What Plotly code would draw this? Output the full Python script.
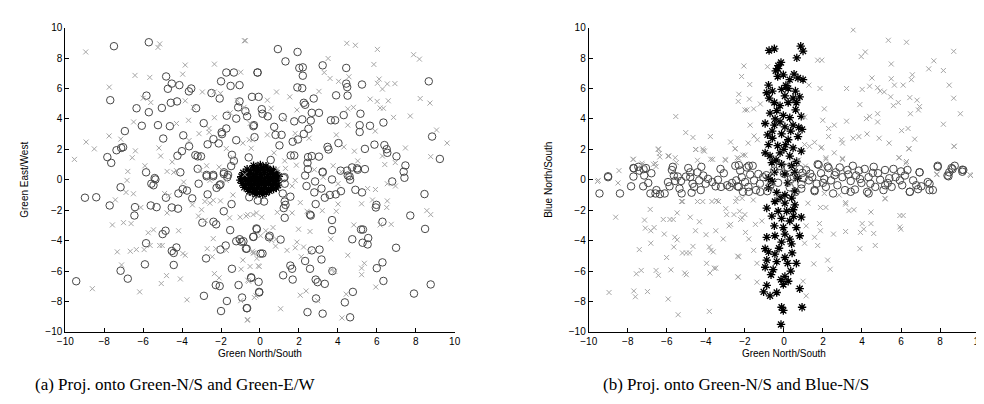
import plotly.graph_objects as go

# ---------------- Data: panel (a) Green N/S vs Green E/W ----------------
a_circles = [
(-7.50,8.78),(-5.71,9.04),(-7.69,5.23),(-5.83,5.53),(-6.34,4.70),(-5.71,4.44),(-5.04,4.72),(-4.82,6.79),
(-4.73,5.98),(-4.53,6.32),(-4.14,6.22),(-4.58,5.06),(-4.26,5.15),(-3.65,5.81),(-3.53,6.00),(-3.28,4.70),
(-6.94,3.20),(-6.07,3.55),(-5.24,3.59),(-4.63,3.52),(-4.97,2.71),(-7.84,1.49),(-7.64,1.11),(-7.37,1.94),
(-7.13,2.09),(-7.03,2.14),(-3.94,2.92),(-4.24,1.58),(-4.01,1.88),(-3.64,2.20),(-3.32,1.62),(-3.20,1.54),
(-3.03,1.54),(-2.89,3.72),(-2.69,2.33),(-2.39,2.67),(-2.12,2.39),(-1.97,3.12),(-1.95,3.00),(-1.73,3.37),
(-2.49,5.70),(-2.07,5.34),(-2.00,6.47),(-1.73,7.05),(-1.34,7.05),(-1.51,6.17),(-1.05,6.22),(-0.12,7.05),
(-1.71,4.21),(-1.22,4.02),(-1.12,4.76),(-1.05,5.15),(-0.75,4.51),(-0.66,4.17),(-0.41,5.45),(-0.07,5.45),
(-0.34,3.52),(-0.28,2.80),(-0.58,1.47),(-1.22,2.60),(-1.44,1.64),(-1.34,1.24),(-1.48,0.90),(-5.85,0.49),
(-4.09,0.49),(-3.20,0.72),(-2.74,0.32),(-2.40,0.32),(-1.85,0.49),(-1.64,0.32),(-5.41,0.11),
(0.92,8.59),(1.93,8.40),(1.31,7.78),(2.02,7.35),(2.20,7.39),(2.20,6.84),(3.22,7.52),(4.43,7.35),
(-0.13,7.05),(1.92,6.07),(2.17,6.02),(4.43,6.32),(4.48,6.09),(5.24,6.26),(8.67,6.47),(2.25,5.06),
(2.32,4.93),(2.76,5.34),(3.91,5.55),(4.50,5.53),(0.09,4.64),(0.13,4.34),(0.40,4.17),(1.17,4.12),
(1.76,3.84),(2.17,3.97),(2.66,4.40),(3.03,4.40),(2.61,3.89),(3.64,3.91),(3.86,3.91),(4.30,4.25),
(5.16,4.34),(5.12,3.59),(5.12,3.14),(5.65,3.55),(6.34,3.76),(-0.31,3.59),(0.73,3.48),(2.49,3.35),
(0.80,2.95),(1.11,2.95),(2.25,3.01),(1.95,2.65),(1.68,2.50),(1.00,2.26),(3.47,2.16),(3.52,1.99),
(4.03,2.41),(5.39,2.03),(5.88,2.31),(6.39,2.28),(6.51,2.01),(6.54,1.77),(8.84,2.84),(7.01,1.54),
(9.24,1.37),(1.58,1.60),(1.76,1.60),(2.47,1.49),(2.66,1.56),(3.03,1.52),(2.44,1.11),(2.46,0.70),
(0.55,1.30),(3.22,0.53),(4.14,0.60),(4.47,0.60),(4.73,0.81),(4.99,0.75),(5.39,0.70),(7.47,0.94),
(7.38,0.53),(1.26,0.17),(2.32,0.28),(4.51,0.28),
(-9.44,-6.67),(-8.99,-1.18),(-8.41,-1.15),(-7.72,-1.69),(-7.16,-0.49),(-6.45,-2.35),(-6.42,-1.80),
(-5.58,-0.26),(-5.47,-0.36),(-5.37,0.02),(-5.61,-1.69),(-5.31,-1.80),(-5.85,-4.17),(-5.00,-3.57),
(-4.85,-3.35),(-4.83,-1.18),(-4.53,-1.82),(-4.21,-1.90),(-4.29,-4.45),(-4.53,-4.68),(-4.43,-4.81),
(-4.43,-5.60),(-5.91,-5.56),(-7.16,-5.98),(-6.79,-6.50),(-4.19,-0.90),(-3.97,-0.62),(-3.75,-0.71),
(-3.48,-1.22),(-3.15,-0.26),(-2.69,-0.96),(-2.74,0.23),(-2.40,0.23),(-2.23,-0.53),(-2.08,-0.36),
(-2.03,-0.30),(-1.86,0.38),(-1.68,0.17),(-1.86,-2.07),(-1.46,-1.60),(-2.96,-2.82),(-2.39,-2.76),
(-2.25,-2.93),(-1.53,-3.31),(-0.33,-3.74),(-0.16,-3.25),(-1.22,-4.04),(-1.04,-3.91),(-0.95,-4.08),
(-0.85,-4.04),(-0.68,-4.53),(-1.76,-4.32),(-2.03,-4.59),(-2.77,-5.17),(-1.44,-5.85),(-2.27,-6.92),
(-2.07,-6.99),(-2.88,-7.63),(-1.70,-7.97),(-2.00,-8.63),(-1.10,-6.92),(-0.92,-7.74),(-0.66,-8.44),
(-0.45,-6.45),(-0.07,-6.71),(-0.04,-7.37),(0.03,-4.85),(-0.55,-1.15),(-0.11,-1.37),
(1.22,0.11),(1.27,-0.26),(1.17,-0.90),(1.56,-1.11),(1.27,-1.43),(1.22,-1.86),(1.31,-1.65),(1.27,-2.50),
(0.21,-1.43),(2.39,-0.41),(2.83,-0.11),(2.79,-0.83),(3.16,-0.58),(3.22,0.49),(3.70,0.02),(4.60,0.23),
(4.63,0.00),(5.02,0.66),(3.33,-1.18),(3.59,-1.00),(3.89,-0.96),(4.16,-0.75),(4.90,-0.66),(5.24,-0.83),
(2.86,-1.60),(2.57,-2.29),(2.61,-2.35),(3.70,-2.65),(3.70,-3.31),(4.74,-3.91),(5.19,-3.27),(5.29,-3.27),
(5.56,-3.83),(5.27,-4.14),(5.53,-4.25),(5.95,-1.82),(5.98,-1.65),(6.29,-2.76),(6.79,-0.11),(7.42,0.13),
(8.45,-0.94),(7.72,-2.35),(8.48,-3.23),(6.99,-4.47),(6.00,-5.81),(6.29,-5.43),(6.34,-6.65),(4.77,-7.37),
(4.36,-8.06),(4.63,-9.04),(8.77,-6.88),(7.91,-7.48),(-0.18,-3.20),(-0.35,-3.76),(0.50,-3.68),(1.06,-3.93),
(0.46,-3.78),(-0.72,-4.53),(0.13,-4.85),(2.66,-4.64),(3.06,-4.59),(3.16,-5.24),(2.32,-5.34),(1.56,-5.64),
(1.65,-5.85),(2.57,-5.85),(1.19,-6.28),(1.68,-6.56),(2.86,-6.56),(2.96,-6.73),(3.33,-6.84),(3.72,-6.00),
(-0.45,-6.41),(-0.04,-7.41),(-0.68,-8.44),(2.88,-7.80),(2.44,-8.70),(3.22,-8.80),
]
a_crosses = [
(-8.95,8.40),(-5.15,8.93),(-5.24,8.70),(-0.80,9.14),(-3.84,7.54),(-2.34,7.60),(-6.42,6.86),(-5.66,6.73),
(-3.97,6.94),(-7.74,6.09),(-2.96,5.77),(-0.99,7.07),(-6.00,5.36),(-5.61,5.08),(-3.84,5.19),(-3.42,4.76),
(-2.35,5.77),(-2.03,5.68),(-1.17,5.21),(-0.82,4.76),(-6.49,3.80),(-4.29,3.70),(-3.67,3.91),(-2.34,4.08),
(-2.62,3.37),(-1.53,4.40),(-0.51,3.70),(-7.75,2.88),(-7.15,2.67),(-8.93,2.48),(-8.51,2.03),(-9.53,1.34),
(-6.56,1.45),(-6.40,1.90),(-5.19,2.09),(-5.10,1.56),(-4.51,1.17),(-3.64,2.58),(-3.13,3.03),(-2.61,3.12),
(-1.73,2.05),(-1.39,1.45),(-0.88,2.41),(-0.45,2.07),(-0.38,2.63),(-5.91,0.92),(-4.77,0.55),(-4.29,0.60),
(-2.74,0.92),(-2.10,0.83),(-0.78,0.34),(-6.79,0.55),
(-0.75,9.14),(4.46,8.97),(4.90,8.84),(6.03,8.57),(7.89,8.22),(8.19,7.93),(5.85,7.58),(3.50,7.97),
(3.30,7.05),(3.60,6.66),(4.04,6.47),(4.57,6.77),(6.03,6.34),(6.12,6.62),(6.29,5.96),(6.54,6.30),
(6.93,6.32),(3.03,5.81),(0.85,5.77),(1.53,5.45),(5.66,5.30),(6.02,5.15),(6.59,5.19),(6.17,4.72),
(6.34,4.70),(8.23,5.34),(8.73,5.04),(7.72,4.19),(6.86,4.10),(4.51,4.66),(4.80,4.76),(1.90,4.59),
(0.38,5.23),(0.57,4.70),(1.26,3.97),(4.51,3.59),(5.92,3.20),(9.07,3.27),(9.61,2.41),(3.92,2.95),
(1.81,3.05),(2.52,2.73),(0.38,2.95),(-0.55,2.63),(4.31,2.16),(4.85,1.88),(6.29,1.56),(7.47,2.09),
(8.77,1.52),(6.41,1.00),(6.95,1.13),(5.02,1.24),(3.76,0.92),(1.27,1.24),(0.72,1.77),(1.87,0.96),
(2.79,0.66),(4.18,0.53),(0.89,0.70),(1.31,0.75),
(-8.61,-7.16),(-7.58,-2.97),(-7.01,-2.82),(-6.62,-2.88),(-7.43,-1.32),(-6.88,-0.83),(-6.50,-0.92),
(-6.83,-0.04),(-7.33,-4.74),(-6.66,-4.70),(-6.35,-4.59),(-5.95,-4.59),(-7.11,-5.60),(-6.18,-7.37),
(-6.12,-1.82),(-5.74,-3.48),(-5.47,-3.29),(-5.64,-4.32),(-5.15,-4.32),(-5.02,-4.32),(-4.80,-6.30),
(-5.07,-6.82),(-4.09,-6.52),(-3.75,-7.89),(-3.96,-4.85),(-3.84,-4.96),(-4.18,-3.35),(-4.68,-1.05),
(-4.90,-0.90),(-4.77,-2.18),(-4.43,0.49),(-3.92,-0.15),(-3.47,-1.65),(-3.00,-1.97),(-2.83,-1.43),
(-2.57,-1.54),(-2.40,-1.35),(-2.03,-1.39),(-2.81,-2.67),(-2.40,-3.87),(-2.27,-4.53),(-2.71,-4.53),
(-2.45,-5.06),(-2.34,-6.17),(-2.10,-6.45),(-1.73,-4.64),(-1.56,-2.50),(-1.02,-2.46),(-0.71,-2.39),
(-0.35,-2.29),(-0.88,-5.28),(-0.97,-5.88),(-0.63,-6.60),(-0.29,-7.74),(-0.63,-9.19),(-0.35,-4.81),
(-0.04,-5.70),(-0.51,-5.70),(-0.16,-5.17),(0.03,-3.68),(-0.99,-7.95),(-1.39,-1.00),(-1.73,-0.04),
(-3.08,0.60),(-2.57,-0.04),(-3.16,-2.39),
(1.65,-0.41),(2.07,-1.50),(2.42,-2.07),(1.81,-0.04),(3.25,0.17),(4.01,-0.26),(4.01,-1.60),(5.22,-1.58),
(5.53,-0.58),(5.93,-0.64),(5.78,-1.33),(6.54,-0.26),(6.96,-0.41),(6.54,-1.39),(6.51,-1.82),(6.74,-2.93),
(6.17,-2.97),(8.57,-2.03),(8.77,-2.29),(4.82,-2.97),(3.20,-2.03),(3.92,-2.07),(3.64,-3.89),(1.98,-3.25),
(2.57,-3.40),(1.90,-4.10),(2.24,-4.42),(1.81,-4.47),(1.39,-4.64),(2.57,-4.74),(2.12,-5.06),(4.51,-4.96),
(5.22,-5.81),(5.22,-6.24),(5.36,-5.49),(3.67,-5.92),(3.84,-6.02),(5.95,-7.05),(4.43,-7.52),(4.21,-9.08),
(2.37,-7.31),(2.07,-7.59),(2.96,-7.95),(1.06,-8.48),(-0.65,-9.23),(-0.21,-7.63),(-0.08,-5.66),
(-0.38,-4.70),(-0.29,-4.81),(-0.58,-6.67),(0.80,-4.36),(0.60,-3.99),(0.67,-3.14),(0.09,-2.46),
(-0.18,-2.18),(-0.63,-2.29),(0.89,-2.14),(1.65,-2.18),(0.30,-3.35),(0.84,-3.89),
]
a_stars = [
(-0.33,0.93),(0.02,0.98),(0.31,0.90),(-0.15,0.82),(0.17,0.80),
(-0.66,0.70),(-0.31,0.72),(0.06,0.68),(0.41,0.71),(0.69,0.66),(-0.48,0.58),(0.55,0.55),(-0.12,0.57),(0.24,0.60),
(-0.86,0.46),(-0.52,0.44),(-0.16,0.45),(0.21,0.47),(0.56,0.43),(0.84,0.45),(-0.70,0.32),(0.02,0.33),(0.38,0.30),(0.72,0.34),(-0.33,0.31),
(-0.96,0.21),(-0.64,0.19),(-0.31,0.22),(0.06,0.18),(0.40,0.21),(0.71,0.19),(0.97,0.22),(-0.82,0.09),(-0.15,0.10),(0.55,0.08),(0.24,0.06),(-0.47,0.07),(0.86,0.07),
(-1.01,-0.02),(-0.74,0.01),(-0.44,-0.03),(-0.12,0.00),(0.22,-0.02),(0.54,0.01),(0.86,-0.03),(-0.60,-0.13),(0.05,-0.12),(0.39,-0.14),(-0.29,-0.11),(0.70,-0.12),
(-0.91,-0.24),(-0.59,-0.26),(-0.26,-0.23),(0.11,-0.27),(0.45,-0.24),(0.79,-0.26),(-0.76,-0.37),(-0.41,-0.38),(-0.07,-0.36),(0.28,-0.39),(0.62,-0.37),(0.93,-0.35),
(-0.81,-0.50),(-0.46,-0.52),(-0.11,-0.49),(0.24,-0.51),(0.59,-0.50),(0.84,-0.53),(-0.62,-0.63),(-0.28,-0.64),(0.08,-0.62),(0.42,-0.65),(0.70,-0.61),
(-0.55,-0.76),(-0.21,-0.74),(0.15,-0.77),(0.49,-0.73),(-0.38,-0.86),(-0.02,-0.87),(0.32,-0.85),
(-0.20,-0.95),(0.14,-0.96),
]

# ---------------- Data: panel (b) Green N/S vs Blue N/S ----------------
b_circles = [
(-9.45,-0.90),(-9.01,0.17),(-8.40,-0.90),(-7.83,-0.43),(-7.71,0.77),(-7.71,0.21),(-7.46,0.85),(-7.41,0.60),
(-7.16,0.28),(-7.07,0.77),(-7.21,-0.43),(-6.95,-0.21),(-6.79,0.43),(-6.84,-0.90),(-6.58,-0.90),(-6.53,-0.68),
(-6.35,-0.94),(-6.11,-0.90),(-5.94,-0.15),(-5.86,-0.43),(-5.69,0.85),(-5.74,0.64),(-5.64,0.28),(-5.57,-0.08),
(-5.44,0.21),(-5.35,-0.58),(-5.27,-0.08),(-5.24,-0.90),(-5.02,0.21),(-4.90,0.77),(-4.80,0.49),(-4.80,0.17),
(-4.68,-0.26),(-4.73,-0.85),(-4.60,-0.47),(-4.43,0.49),(-4.34,-0.04),(-4.23,0.85),(-4.26,-0.68),(-4.13,0.28),
(-4.01,-0.26),(-3.89,0.06),(-3.67,-0.15),(-3.50,-0.43),(-3.38,0.00),(-3.25,0.71),(-3.22,-0.47),(-3.08,0.43),
(-2.91,-0.36),(-2.78,-0.47),(-2.66,-0.21),(-2.49,0.92),(-2.44,-0.04),(-2.37,-0.43),(-2.24,0.60),(-2.16,0.17),
(-2.10,-0.79),(-1.99,-0.15),(-1.90,0.81),(-1.82,-0.47),(-1.73,0.34),(-1.60,0.92),(-1.53,-0.04),(-1.43,-0.68),
(-1.31,0.38),(-1.23,-0.26),(-1.06,0.17),(-7.69,0.75),(-7.19,0.70),(-9.01,0.23),(-2.31,0.96),(-1.80,0.92),
(-2.31,-0.47),(-1.80,-0.79),(-1.21,-0.79),
(-0.90,0.30),(-0.70,-0.40),(-0.50,0.60),(-0.30,-0.20),(0.00,0.40),(0.30,-0.50),(0.50,0.20),(0.80,0.70),
(0.90,-0.30),(1.00,0.10),(0.20,0.80),(0.60,-0.80),(0.95,0.45),(-0.85,-0.75),(-0.20,0.90),(0.35,0.05),
(1.14,0.64),(1.28,-0.04),(1.45,0.17),(1.57,-0.68),(1.68,-0.26),(1.78,0.98),(1.90,0.43),(2.07,0.06),
(2.15,-0.47),(2.29,0.77),(2.41,-0.04),(2.52,-0.90),(2.66,0.49),(2.74,-0.36),(2.86,0.81),(3.00,0.17),
(3.13,-0.68),(3.25,0.64),(3.42,-0.08),(3.53,0.92),(3.64,-0.64),(3.70,0.28),(3.84,0.60),(3.97,-0.21),
(4.14,0.71),(4.26,-0.79),(4.34,0.17),(4.43,-0.26),(4.60,0.85),(4.68,-0.47),(4.82,0.43),(4.93,0.00),
(5.10,-0.68),(5.18,0.64),(5.32,-0.21),(5.52,-0.47),(5.61,0.71),(5.72,0.17),(5.94,-0.04),(6.06,-0.36),
(6.20,0.28),(6.33,0.64),(6.45,-0.79),(6.62,-0.04),(6.78,-0.36),(6.95,0.49),(7.04,-0.43),(7.37,-0.15),
(7.46,-0.68),(7.63,-0.68),(7.88,0.85),(8.38,0.28),(8.47,0.49),(8.59,0.77),(8.75,0.92),(9.19,0.64),
(7.88,0.92),(8.64,0.70),(9.14,0.66),(6.95,0.49),(1.73,1.02),(2.24,0.87),(0.89,-0.58),(1.57,-0.75),
(3.42,-0.79),(4.34,-0.90),(5.19,-0.36),(6.45,-0.79),(6.87,-0.62),(7.46,-0.26),(8.43,0.23),(9.14,0.53),
(1.35,0.40),(2.00,-0.20),(2.60,0.30),(3.30,0.35),(3.90,0.05),(4.55,0.45),(5.40,0.10),(6.00,0.55),
]
b_crosses = [
(-5.54,4.16),(-5.03,3.10),(-4.66,2.78),(-3.77,2.84),(-2.73,2.48),(-2.51,2.03),(-2.05,7.48),(-2.17,6.79),
(-2.31,5.62),(-2.34,5.15),(-2.00,4.59),(-4.53,1.99),(-4.16,2.03),(-4.07,1.88),(-3.65,1.34),(-3.01,1.34),
(-2.39,1.45),(-2.10,1.62),(-6.43,2.03),(-6.38,1.73),(-5.89,1.56),(-5.51,1.13),(-6.68,1.02),(-7.73,1.34),
(-8.45,0.60),(-7.27,1.09),(-6.55,0.87),
(3.55,9.85),(5.35,9.17),(6.28,9.04),(8.70,8.44),(3.96,8.10),(4.17,8.40),(1.73,7.86),(1.94,7.86),
(7.68,7.82),(7.42,7.29),(8.17,7.18),(5.50,7.61),(6.58,6.90),(6.53,6.58),(5.50,6.64),(4.51,6.69),
(-0.84,7.43),(1.28,6.22),(1.85,6.00),(3.21,6.00),(4.01,5.94),(4.39,6.15),(4.80,6.05),(4.93,5.83),
(5.14,5.77),(5.66,6.22),(6.11,6.22),(8.47,6.22),(-1.75,6.26),(-1.77,5.30),(-1.21,4.98),(-1.89,4.59),
(-1.55,4.66),(5.47,5.45),(5.61,4.87),(5.86,5.08),(6.45,5.40),(6.82,5.23),(6.95,4.81),(6.89,4.59),
(8.70,5.36),(3.89,4.94),(2.07,4.66),(1.06,4.12),(1.99,3.91),(3.21,3.85),(4.23,4.02),(4.39,4.17),
(4.80,4.34),(4.80,3.80),(6.48,4.34),(9.04,4.34),(8.17,3.65),(-1.73,3.59),(-1.53,2.88),(-1.36,2.63),
(-1.83,2.41),(2.29,3.37),(2.58,3.59),(2.29,2.84),(1.57,2.46),(1.31,2.20),(1.06,2.31),(1.94,2.14),
(2.95,2.63),(3.00,2.41),(3.55,2.73),(3.84,2.84),(4.26,3.01),(4.88,2.73),(5.39,2.41),(6.03,3.23),
(6.36,3.37),(6.70,2.67),(6.41,2.03),(8.72,2.20),(5.91,1.45),(6.25,1.09),(7.83,0.34),(9.53,0.34),
(2.58,1.77),(2.15,1.45),(3.00,1.34),
(-9.51,-0.04),(-8.50,-0.21),(-7.71,1.35),(-7.26,0.98),(-6.44,1.99),(-6.36,1.50),(-6.58,1.07),(-5.94,1.56),
(-5.57,1.45),(-4.51,1.99),(-4.13,1.92),(-4.43,1.28),(-3.75,1.35),(-2.99,1.28),(-2.49,2.05),(-2.32,1.41),
(-1.99,1.62),(-5.19,-1.43),(-4.43,-1.43),(-3.45,-1.37),(-2.41,-1.22),(-1.57,-1.33),
(1.90,2.09),(3.00,1.41),(2.15,1.35),(5.89,1.45),(6.28,1.20),(6.40,2.05),(8.72,2.20),(9.56,0.28),
(7.84,0.38),(5.18,-1.22),(2.07,-0.90),(2.83,-1.00),(3.16,-1.50),
(-9.55,-0.11),(-8.96,-7.41),(-8.62,-2.46),(-7.69,-7.31),(-7.61,-7.69),(-6.99,-7.35),(-7.41,-4.59),
(-7.56,-6.18),(-7.31,-5.96),(-7.14,-2.65),(-7.10,-3.18),(-6.85,-1.95),(-6.82,-3.35),(-6.65,-3.14),
(-6.82,-4.17),(-6.55,-5.96),(-6.43,-6.28),(-6.18,-2.61),(-6.13,-3.57),(-6.01,-5.11),(-5.84,-2.61),
(-5.67,-2.61),(-5.93,-7.84),(-5.79,-5.92),(-5.59,-3.78),(-5.64,-4.42),(-5.47,-3.95),(-5.47,-2.18),
(-5.42,-8.87),(-5.25,-1.43),(-5.20,-4.81),(-5.08,-6.13),(-5.00,-6.24),(-5.00,-4.81),(-4.83,-4.81),
(-4.80,-2.46),(-4.66,-4.38),(-4.53,-3.35),(-4.33,-2.76),(-4.16,-1.43),(-3.99,-3.61),(-3.96,-5.49),
(-3.82,-4.42),(-3.82,-8.65),(-3.79,-6.13),(-3.74,-4.64),(-3.57,-5.81),(-3.49,-5.81),(-3.69,-1.43),
(-3.49,-3.35),(-3.62,-4.74),(-3.35,-1.43),(-3.11,-3.89),(-2.98,-1.90),(-2.93,-2.29),(-2.81,-3.03),
(-2.73,-2.93),(-2.56,-2.29),(-2.47,-1.43),(-2.37,-5.02),(-2.36,-6.39),(-2.22,-2.61),(-2.14,-1.22),
(-2.00,-2.29),
(1.23,-1.54),(1.87,-1.82),(2.15,-1.82),(3.16,-1.60),(3.33,-2.03),(3.59,-1.97),(4.46,-2.12),(5.19,-1.26),
(5.94,-2.35),(6.11,-2.35),(5.94,-3.10),(5.99,-3.25),(1.14,-3.03),(1.82,-2.88),(1.87,-3.35),(2.54,-3.57),
(3.16,-3.40),(3.92,-3.46),(4.01,-2.88),(4.09,-3.25),(4.46,-2.88),(4.60,-3.53),(3.89,-4.53),(4.68,-4.32),
(1.57,-3.78),(1.73,-4.32),(1.06,-4.17),(2.24,-5.28),(2.37,-5.88),(1.53,-5.53),(0.98,-6.67),(1.14,-7.63),
(-1.46,-2.93),(-1.13,-2.71),(-2.14,-2.50),(-1.80,-3.89),(-1.55,-4.64),(-2.31,-5.06),(-2.34,-6.39),
(-1.38,-5.49),(-1.38,-6.73),(-1.97,-3.46),(-2.27,-2.07),
(-0.60,0.50),(0.40,-0.30),(1.10,0.90),(-1.20,-0.50),(0.75,1.30),(-0.35,-1.10),
]
b_stars = [
(-0.76,8.50),(-0.49,8.61),(0.86,8.78),(0.98,8.46),(0.66,8.01),(-0.15,7.71),(-0.29,7.50),(-0.42,7.16),
(-0.32,6.79),(-0.03,6.90),(0.52,6.94),(0.30,6.58),(0.72,6.69),(0.98,6.58),(-0.79,6.22),(-0.59,5.83),
(-0.88,5.72),(-0.12,5.94),(0.22,6.00),(0.59,5.83),(0.05,5.51),(0.47,5.36),(0.81,5.45),(-0.76,5.36),
(-0.49,5.08),(-0.20,4.87),(0.22,5.08),(0.64,5.08),(-0.71,4.38),(-0.37,4.55),(-0.03,4.23),(0.30,4.08),
(0.89,4.17),(-0.96,3.70),(-0.49,3.59),(-0.20,3.80),(0.05,3.48),(0.47,3.59),(0.76,3.44),(0.93,3.31),
(-0.84,2.95),(-0.59,2.73),(-0.12,3.01),(0.22,2.63),(0.72,2.84),(-0.79,2.31),(-0.32,2.24),(0.08,2.31),
(0.47,2.09),(-0.96,1.77),(-0.71,1.56),(-0.20,1.77),(0.30,1.56),(0.89,1.88),(-0.62,1.13),(-0.12,1.02),
(0.39,0.92),(-0.49,0.49),(0.05,0.38),(0.56,0.49),(-0.30,7.30),(0.10,6.20),(-0.45,4.00),(0.60,4.60),
(-0.60,3.20),(0.35,3.20),(0.00,2.00),(-0.40,1.30),(0.65,1.20),(-0.80,0.10),(0.20,-0.20),(0.70,0.10),
(-0.79,-0.53),(-0.37,-0.83),(0.05,-1.00),(0.56,-0.75),(-0.46,-1.43),(0.05,-1.54),(0.56,-1.65),(-0.88,-1.86),
(-0.29,-2.07),(0.14,-2.07),(0.47,-1.97),(0.89,-2.46),(-0.62,-2.39),(-0.12,-2.54),(0.30,-2.71),(-0.49,-3.03),
(-0.03,-3.14),(0.64,-3.14),(-0.88,-3.78),(-0.46,-3.68),(0.05,-3.57),(0.81,-3.68),(-0.12,-4.10),(0.39,-4.21),
(-0.96,-4.53),(-0.79,-4.74),(-0.46,-4.89),(0.05,-5.11),(0.42,-4.81),(-0.88,-5.28),(-0.37,-5.38),(0.19,-5.49),
(0.64,-5.49),(-0.96,-5.75),(-0.66,-6.24),(-0.15,-6.56),(0.05,-6.35),(0.22,-6.67),(-0.03,-6.88),(-0.88,-6.94),
(-1.04,-7.37),(-0.71,-7.63),(-0.37,-7.41),(0.81,-7.16),(-0.12,-8.38),(-0.03,-8.59),(0.93,-8.38),(-0.15,-9.51),
(-0.20,-1.20),(0.30,-3.90),(-0.25,-4.50),(0.35,-6.00),(-0.55,-5.90),(0.50,-2.40),(-0.60,-0.10),(0.40,-1.20),
]

tick_vals = [-10, -8, -6, -4, -2, 0, 2, 4, 6, 8, 10]
x_title = "Green North/South"
y_title_a = "Green East/West"
y_title_b = "Blue North/South"
caption_a = "(a) Proj. onto Green-N/S and Green-E/W"
caption_b = "(b) Proj. onto Green-N/S and Blue-N/S"

CROSS_C = "#a6a6a6"
CIRC_C = "#474747"
STAR_C = "#000000"

def xs(p): return [q[0] for q in p]
def ys(p): return [q[1] for q in p]

fig = go.Figure()

def add_panel(stars, circles, crosses, xa, ya):
    fig.add_trace(go.Scatter(x=xs(stars), y=ys(stars), mode="markers", xaxis=xa, yaxis=ya,
        marker=dict(symbol="asterisk-open", size=7, color=STAR_C, line=dict(color=STAR_C, width=1.3)),
        showlegend=False, hoverinfo="skip"))
    fig.add_trace(go.Scatter(x=xs(circles), y=ys(circles), mode="markers", xaxis=xa, yaxis=ya,
        marker=dict(symbol="circle-open", size=7.5, color=CIRC_C, line=dict(color=CIRC_C, width=1)),
        showlegend=False, hoverinfo="skip"))
    fig.add_trace(go.Scatter(x=xs(crosses), y=ys(crosses), mode="markers", xaxis=xa, yaxis=ya,
        marker=dict(symbol="x-thin-open", size=5, color=CROSS_C, line=dict(color=CROSS_C, width=1)),
        showlegend=False, hoverinfo="skip"))

add_panel(a_stars, a_circles, a_crosses, "x", "y")
add_panel(b_stars, b_circles, b_crosses, "x2", "y2")

tickfont = dict(family="Liberation Sans Narrow, Arial Narrow, Liberation Sans, Arial", size=10, color="#000")
titlefont = dict(family="Liberation Sans Narrow, Arial Narrow, Liberation Sans, Arial", size=10, color="#000")

axis_common = dict(range=[-10, 10], tickvals=tick_vals, ticks="inside", ticklen=4, tickwidth=1,
                   tickcolor="#000", showline=True, linecolor="#000", linewidth=1, showgrid=False,
                   zeroline=False, tickfont=tickfont, mirror=False)

ydom = [1 - 327/404, 1 - 15/404]
cap_font = dict(family="Liberation Serif, Times New Roman, serif", size=17, color="#000")
fig.update_layout(
    width=984, height=404, margin=dict(l=0, r=0, t=0, b=0),
    paper_bgcolor="white", plot_bgcolor="white",
    xaxis=dict(domain=[50/984, 445/984], anchor="y", title=dict(text=x_title, font=titlefont, standoff=4), **axis_common),
    yaxis=dict(domain=ydom, anchor="x", title=dict(text=y_title_a, font=titlefont, standoff=14), **axis_common),
    xaxis2=dict(domain=[581/984, 977/984], anchor="y2", title=dict(text=x_title, font=titlefont, standoff=4), **axis_common),
    yaxis2=dict(domain=ydom, anchor="x2", title=dict(text=y_title_b, font=titlefont, standoff=14), **axis_common),
    annotations=[
        dict(text=caption_a, x=161/984, y=1 - 381/404, xref="paper", yref="paper", showarrow=False,
             xanchor="center", yanchor="middle", font=cap_font),
        dict(text=caption_b, x=730/984, y=1 - 381/404, xref="paper", yref="paper", showarrow=False,
             xanchor="center", yanchor="middle", font=cap_font),
    ],
)

fig.write_html("out.html")
